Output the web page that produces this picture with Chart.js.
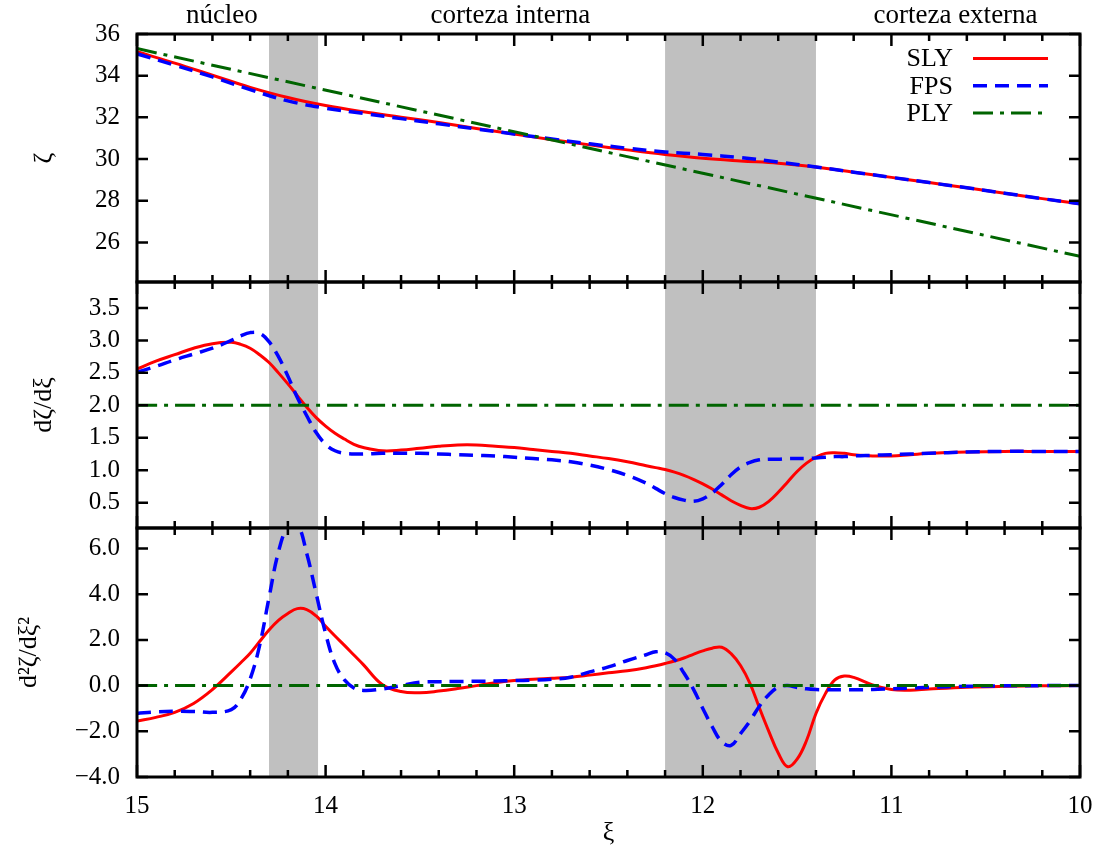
<!DOCTYPE html>
<html><head><meta charset="utf-8">
<script src="https://cdn.jsdelivr.net/npm/chart.js@4.4.1/dist/chart.umd.min.js"></script>
<style>
html,body{margin:0;padding:0;background:#fff;}
#wrap{position:relative;width:1102px;height:850px;overflow:hidden;background:#fff;}
canvas{position:absolute;left:0;}
</style></head><body>
<div id="wrap">
<canvas id="c1" width="1102" height="300" style="top:0px"></canvas>
<canvas id="c2" width="1102" height="270" style="top:270px"></canvas>
<canvas id="c3" width="1102" height="334" style="top:516px"></canvas>
</div>
<script>
// ---------- data ----------
const seriesNames = ['SLY', 'FPS', 'PLY'];

// top panel (zeta)
const xsZeta  = [15.0,14.8,14.6,14.4,14.2,14.0,13.8,13.6,13.4,13.2,13.0,12.8,12.6,12.4,12.2,12.0,11.8,11.6,11.4,11.2,11.0,10.8,10.6,10.4,10.2,10.0];
const slyZeta = [35.15,34.60,34.02,33.44,32.95,32.57,32.27,32.01,31.75,31.47,31.20,30.93,30.68,30.44,30.22,30.04,29.91,29.80,29.62,29.37,29.12,28.87,28.62,28.36,28.10,27.85];
const fpsZeta = [35.05,34.50,33.94,33.33,32.79,32.44,32.19,31.94,31.69,31.44,31.20,30.96,30.73,30.52,30.34,30.22,30.07,29.86,29.62,29.37,29.12,28.87,28.62,28.36,28.10,27.85];

// PLY (straight lines)
const plyXs   = [15, 10];
const plyZeta = [35.3, 25.33];
const plyD1   = [2.0, 2.0];
const plyD2   = [0.0, 0.0];

// middle and bottom panels
const xs = [15.0,14.9,14.8,14.7,14.6,14.5,14.45,14.4,14.35,14.3,14.25,14.2,14.15,14.1,14.05,14.0,13.95,13.9,13.85,13.8,13.7,13.6,13.5,13.4,13.3,13.2,13.1,13.0,12.9,12.8,12.7,12.6,12.5,12.4,12.3,12.25,12.2,12.15,12.1,12.05,12.0,11.95,11.9,11.85,11.8,11.75,11.7,11.65,11.6,11.55,11.5,11.45,11.4,11.35,11.3,11.25,11.2,11.1,11.0,10.9,10.8,10.6,10.4,10.2,10.0];
const slyD1 = [2.56,2.68,2.78,2.88,2.95,2.97,2.94,2.88,2.78,2.66,2.50,2.33,2.15,1.97,1.81,1.68,1.57,1.48,1.40,1.35,1.30,1.31,1.34,1.37,1.39,1.39,1.37,1.35,1.32,1.29,1.26,1.22,1.18,1.13,1.07,1.04,1.01,0.97,0.92,0.86,0.79,0.71,0.62,0.53,0.46,0.41,0.43,0.52,0.66,0.82,0.98,1.11,1.20,1.26,1.27,1.26,1.24,1.22,1.22,1.24,1.26,1.28,1.29,1.29,1.29];
const fpsD1 = [2.51,2.60,2.70,2.79,2.88,3.00,3.07,3.12,3.11,2.98,2.75,2.45,2.12,1.84,1.58,1.40,1.30,1.26,1.25,1.25,1.26,1.26,1.26,1.25,1.24,1.23,1.22,1.20,1.18,1.16,1.13,1.08,1.01,0.92,0.80,0.72,0.64,0.58,0.54,0.52,0.56,0.65,0.78,0.93,1.05,1.12,1.16,1.17,1.17,1.18,1.18,1.18,1.19,1.20,1.21,1.21,1.22,1.23,1.24,1.25,1.26,1.28,1.29,1.29,1.29];
const slyD2 = [-1.55,-1.39,-1.17,-0.78,-0.17,0.60,1.00,1.42,1.93,2.44,2.86,3.16,3.37,3.33,3.05,2.60,2.17,1.76,1.34,0.92,0.05,-0.26,-0.31,-0.24,-0.13,0.00,0.13,0.22,0.28,0.32,0.37,0.46,0.56,0.65,0.78,0.87,0.97,1.08,1.21,1.37,1.52,1.64,1.68,1.40,0.88,0.10,-0.97,-2.00,-2.95,-3.55,-3.22,-2.40,-1.22,-0.35,0.25,0.42,0.36,0.03,-0.17,-0.20,-0.15,-0.07,-0.03,-0.01,0.00];
const fpsD2 = [-1.22,-1.15,-1.12,-1.13,-1.17,-1.05,-0.60,0.29,1.75,3.85,5.85,6.95,7.05,5.78,4.03,2.28,0.95,0.25,-0.10,-0.21,-0.15,0.00,0.15,0.17,0.18,0.19,0.20,0.22,0.24,0.28,0.37,0.60,0.82,1.10,1.35,1.48,1.44,1.15,0.55,-0.15,-1.00,-1.80,-2.45,-2.62,-2.10,-1.55,-0.90,-0.40,-0.07,0.00,-0.08,-0.14,-0.17,-0.18,-0.18,-0.18,-0.18,-0.17,-0.14,-0.11,-0.07,-0.03,-0.01,0.00,0.00];

// shaded transition bands (xi ranges)
const bands = [[14.30, 14.04], [12.20, 11.40]];
// region labels above the chart
const regionNames = ['núcleo', 'corteza interna', 'corteza externa'];
const regionX = [14.55, 13.02, 10.66];
// ticks
const xTickLabels = [15, 14, 13, 12, 11, 10];
const yTicksZeta = [26, 28, 30, 32, 34, 36];
const yTicksD1 = [0.5, 1.0, 1.5, 2.0, 2.5, 3.0, 3.5];
const yTicksD2 = [-4, -2, 0, 2, 4, 6];

// ---------- styling ----------
const SERIF = '"Liberation Serif", "Times New Roman", serif';
Chart.defaults.font.family = SERIF;
Chart.defaults.color = '#000';

const styles = [
  {borderColor:'#ff0000', borderWidth:3, borderDash:[], order:2},
  {borderColor:'#0000ff', borderWidth:3.5, borderDash:[14,8], order:1},
  {borderColor:'#006400', borderWidth:3, borderDash:[20,7,4,7], order:0}
];
function pts(xa, ya){ return xa.map((x,i)=>({x:x, y:ya[i]})); }
function ds(k, xa, ya){
  return Object.assign({label:seriesNames[k], data:pts(xa,ya), pointRadius:0, fill:false,
    tension:0.4}, styles[k]);
}
const fmtInt = v => String(v);
const fmt1 = v => Number(v).toFixed(1).replace('-', '\u2212');

const framePlugin = {
  id:'frame',
  beforeDatasetsDraw(chart){
    const {ctx, chartArea:a, scales:{x}} = chart;
    ctx.save(); ctx.fillStyle = '#c0c0c0';
    bands.forEach(b => {
      const p0 = x.getPixelForValue(b[0]), p1 = x.getPixelForValue(b[1]);
      ctx.fillRect(Math.min(p0,p1), a.top, Math.abs(p1-p0), a.bottom-a.top);
    });
    ctx.restore();
  },
  afterDatasetsDraw(chart){
    const {ctx, chartArea:a, scales:{x, y}} = chart;
    ctx.save(); ctx.strokeStyle = '#000'; ctx.setLineDash([]);
    ctx.lineWidth = 2.5;
    ctx.beginPath();
    for (let k = 0; k <= 25; k++) {
      const v = 10 + k*0.2;
      const p = x.getPixelForValue(v);
      const L = (k % 5 === 0) ? 12 : 7;
      ctx.moveTo(p, a.top); ctx.lineTo(p, a.top + L);
      ctx.moveTo(p, a.bottom); ctx.lineTo(p, a.bottom - L);
    }
    y.ticks.forEach(t => {
      const p = y.getPixelForValue(t.value);
      ctx.moveTo(a.left, p); ctx.lineTo(a.left + 11, p);
      ctx.moveTo(a.right, p); ctx.lineTo(a.right - 11, p);
    });
    ctx.stroke();
    ctx.lineWidth = 3;
    ctx.strokeRect(a.left, a.top, a.right - a.left, a.bottom - a.top);
    ctx.restore();
  }
};

const regionPlugin = {
  id:'regions',
  afterDraw(chart){
    const {ctx, scales:{x}} = chart;
    ctx.save(); ctx.font = '27px ' + SERIF; ctx.fillStyle = '#000';
    ctx.textAlign = 'center'; ctx.textBaseline = 'alphabetic';
    regionNames.forEach((n,i) => ctx.fillText(n, x.getPixelForValue(regionX[i]), 23));
    ctx.restore();
  }
};

const keyPlugin = {
  id:'keys',
  afterDatasetsDraw(chart){
    const {ctx, chartArea:a} = chart;
    ctx.save(); ctx.font = '26px ' + SERIF;
    ctx.textAlign = 'right'; ctx.textBaseline = 'middle';
    chart.data.datasets.forEach((d,i) => {
      const yy = a.top + 24.5 + i*27.2;
      ctx.fillStyle = '#000'; ctx.fillText(d.label, a.right - 127, yy + 1);
      ctx.strokeStyle = d.borderColor; ctx.lineWidth = d.borderWidth;
      ctx.setLineDash(d.borderDash);
      ctx.beginPath(); ctx.moveTo(a.right - 107, yy); ctx.lineTo(a.right - 32, yy); ctx.stroke();
    });
    ctx.restore();
  }
};

function xHidden(){
  return {type:'linear', min:10, max:15, reverse:true, display:false,
    afterFit: s => { s.height = 0; s.paddingLeft = 0; s.paddingRight = 0; s.paddingTop = 0; s.paddingBottom = 0; }};
}
function xShown(){
  return {type:'linear', min:10, max:15, reverse:true,
    afterFit: s => { s.height = 73; s.paddingLeft = 0; s.paddingRight = 0; s.paddingTop = 0; s.paddingBottom = 0; },
    afterBuildTicks: s => { s.ticks = xTickLabels.map(v => ({value:v})); },
    ticks:{padding:14, font:{family:SERIF, size:25}, maxRotation:0, autoSkip:false, callback: fmtInt},
    grid:{display:false, drawTicks:false}, border:{display:false},
    title:{display:true, text:'\u03BE', font:{family:SERIF, size:26}, padding:{top:0, bottom:1}}};
}
function yCfg(min, max, tickArr, fmt, title, pad){
  return {min:min, max:max,
    afterFit: s => { s.width = 137; s.paddingTop = 0; s.paddingBottom = 0; s.paddingLeft = 0; s.paddingRight = 0; },
    afterBuildTicks: s => { s.ticks = tickArr.map(v => ({value:v})); },
    ticks:{padding:17, font:{family:SERIF, size:25}, autoSkip:false, callback: fmt},
    grid:{display:false, drawTicks:false}, border:{display:false},
    title:{display:true, text:title, font:{family:SERIF, size:26}, padding:{top:pad, bottom:0}}};
}
function makeChart(id, datasets, x, y, padding, extra){
  return new Chart(document.getElementById(id), {
    type:'line',
    data:{datasets:datasets},
    options:{responsive:false, animation:false, devicePixelRatio:1,
      layout:{padding:padding},
      plugins:{legend:{display:false}, tooltip:{enabled:false}},
      scales:{x:x, y:y}},
    plugins:[framePlugin].concat(extra)
  });
}

makeChart('c1',
  [ds(0, xsZeta, slyZeta), ds(1, xsZeta, fpsZeta), ds(2, plyXs, plyZeta)],
  xHidden(), yCfg(24.1, 36, yTicksZeta, fmtInt, '\u03B6', 29),
  {top:34, bottom:18, left:0, right:22}, [regionPlugin, keyPlugin]);

makeChart('c2',
  [ds(0, xs, slyD1), ds(1, xs, fpsD1), ds(2, plyXs, plyD1)],
  xHidden(), yCfg(0.11, 3.9, yTicksD1, fmt1, 'd\u03B6/d\u03BE', 29),
  {top:12, bottom:12, left:0, right:22}, []);

makeChart('c3',
  [ds(0, xs, slyD2), ds(1, xs, fpsD2), ds(2, plyXs, plyD2)],
  xShown(), yCfg(-4, 6.9, yTicksD2, fmt1, 'd\u00B2\u03B6/d\u03BE\u00B2', 14),
  {top:12, bottom:0, left:0, right:22}, []);
</script>
</body></html>
